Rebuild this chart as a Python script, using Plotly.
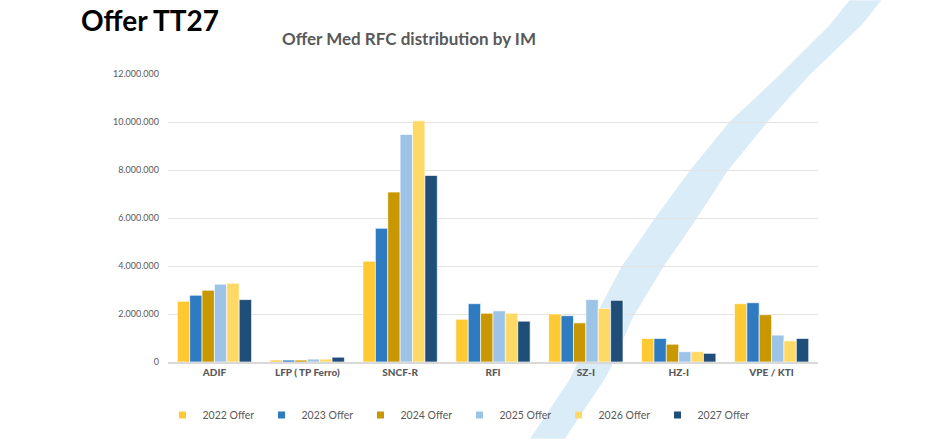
import plotly.graph_objects as go

categories = ["ADIF", "LFP ( TP Ferro)", "SNCF-R", "RFI", "SZ-I", "HZ-I", "VPE / KTI"]
series_names = ["2022 Offer", "2023 Offer", "2024 Offer", "2025 Offer", "2026 Offer", "2027 Offer"]
offer_2022 = [2530000, 80000, 4200000, 1780000, 2000000, 980000, 2430000]
offer_2023 = [2780000, 80000, 5570000, 2430000, 1930000, 980000, 2470000]
offer_2024 = [2990000, 80000, 7080000, 2030000, 1630000, 740000, 1970000]
offer_2025 = [3240000, 120000, 9480000, 2130000, 2600000, 430000, 1120000]
offer_2026 = [3280000, 120000, 10050000, 2030000, 2230000, 430000, 880000]
offer_2027 = [2600000, 200000, 7770000, 1700000, 2570000, 360000, 980000]
series_values = [offer_2022, offer_2023, offer_2024, offer_2025, offer_2026, offer_2027]
colors = ["#FFC933", "#2F7BC2", "#C99700", "#9DC3E6", "#FFD966", "#1F4E79"]

W, H = 945, 440
L, R, T, B = 167.5, 818.5, 74, 363

def px(x, y):
    return (x - L) / (R - L), (B - y) / (B - T)

# decorative background band (pixel outline)
band_left = [(850, 0), (830, 25), (780, 75), (730, 122), (690, 171), (655, 219),
             (622, 267), (594, 320), (578, 363), (570, 380), (530, 440)]
band_right = [(882, 0), (862, 25), (810, 75), (768, 122), (728, 171), (697, 219),
              (664, 267), (632, 320), (614, 363), (605, 380), (565, 440)]
pts = band_left + band_right[::-1]
path = ""
for i, (x, y) in enumerate(pts):
    X, Y = px(x, y)
    path += ("M" if i == 0 else "L") + f"{X:.4f},{Y:.4f} "
path += "Z"

fig = go.Figure()
for i, (name, vals, c) in enumerate(zip(series_names, series_values, colors)):
    fig.add_trace(go.Bar(x=categories, y=vals, name=name, marker_color=c, legendgroup=name,
                         showlegend=False,
                         marker_line=dict(color="rgba(255,255,255,0.8)", width=0.8)))
for name, c in zip(series_names, colors):
    fig.add_trace(go.Scatter(x=[None], y=[None], mode="markers", name=name, legendgroup=name,
                             marker=dict(symbol="square", size=7, color=c), showlegend=True))

font_family = "Lato, Open Sans, sans-serif"
fig.update_layout(
    width=W, height=H,
    margin=dict(l=L, r=W - R, t=T, b=H - B, pad=0),
    paper_bgcolor="white", plot_bgcolor="rgba(0,0,0,0)",
    barmode="group", bargap=0.2, bargroupgap=0,
    separators=",.",
    font=dict(family=font_family, color="#595959"),
    showlegend=True,
    legend=dict(orientation="h", x=px(162, 0)[0], xanchor="left", y=px(0, 415)[1], yanchor="middle",
                font=dict(size=10.5, color="#595959"), entrywidth=54, entrywidthmode="pixels",
                bgcolor="rgba(0,0,0,0)", traceorder="normal"),
    xaxis=dict(showgrid=False, showline=True, linecolor="#D9D9D9", linewidth=1.5,
               tickfont=dict(size=10, color="#595959", family="Lato Black, Lato, sans-serif"),
               ticks="", fixedrange=True),
    yaxis=dict(range=[0, 12000000], tickvals=[0, 2000000, 4000000, 6000000, 8000000, 10000000, 12000000],
               tickformat=",.0f", showgrid=True, gridcolor="#E3E3E3", gridwidth=1,
               zeroline=False, showline=False, ticks="", ticklabelstandoff=8,
               tickfont=dict(size=9, color="#595959")),
    shapes=[dict(type="path", path=path, xref="paper", yref="paper", layer="below",
                 fillcolor="rgba(205,230,246,0.75)", line=dict(width=0))],
    annotations=[
        dict(text="<b>Offer TT27</b>", x=px(78, 0)[0], y=px(0, 20)[1], xref="paper", yref="paper",
             xanchor="left", yanchor="middle", showarrow=False,
             font=dict(size=28, color="black", family=font_family)),
        dict(text="<b>Offer Med RFC distribution by IM</b>", x=px(409, 0)[0], y=px(0, 38)[1],
             xref="paper", yref="paper", xanchor="center", yanchor="middle", showarrow=False,
             font=dict(size=17, color="#595959", family=font_family)),
    ],
)
fig.write_html("out.html")
